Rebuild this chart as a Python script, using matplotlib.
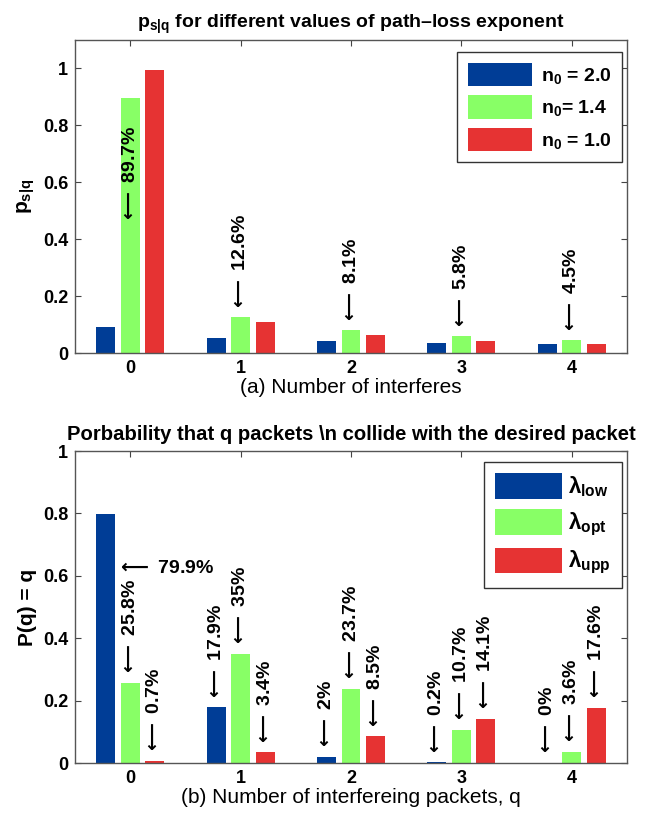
import matplotlib
matplotlib.use("Agg")
import matplotlib.pyplot as plt
import numpy as np

plt.rcParams['font.family'] = ['Liberation Sans', 'DejaVu Sans']
plt.rcParams['font.weight'] = 'bold'
plt.rcParams['mathtext.fontset'] = 'custom'
plt.rcParams['mathtext.rm'] = 'Liberation Sans:bold'
plt.rcParams['mathtext.bf'] = 'Liberation Sans:bold'
plt.rcParams['mathtext.it'] = 'Liberation Sans:bold'
plt.rcParams['mathtext.default'] = 'bf'

# ---------------- data ----------------
groups = [0, 1, 2, 3, 4]

top_labels = [r'$n_0$ = 2.0', r'$n_0$= 1.4', r'$n_0$ = 1.0']
top_n20 = [0.093, 0.051, 0.042, 0.036, 0.032]
top_n14 = [0.897, 0.126, 0.081, 0.058, 0.045]
top_n10 = [0.994, 0.110, 0.065, 0.042, 0.032]
top_annot = ['89.7%', '12.6%', '8.1%', '5.8%', '4.5%']

bot_labels = [r'$\lambda_{low}$', r'$\lambda_{opt}$', r'$\lambda_{upp}$']
bot_low = [0.799, 0.179, 0.020, 0.002, 0.000]
bot_opt = [0.258, 0.350, 0.237, 0.107, 0.036]
bot_upp = [0.007, 0.034, 0.085, 0.141, 0.176]
bot_annot_low = ['79.9%', '17.9%', '2%', '0.2%', '0%']
bot_annot_opt = ['25.8%', '35%', '23.7%', '10.7%', '3.6%']
bot_annot_upp = ['0.7%', '3.4%', '8.5%', '14.1%', '17.6%']

colors = ['#003d96', '#88ff66', '#e63333']
W, H = 662, 816
fig = plt.figure(figsize=(W / 100, H / 100), dpi=100)

ax1 = fig.add_axes([75 / W, 1 - 353 / H, 552 / W, 313 / H])
ax2 = fig.add_axes([75 / W, 1 - 763 / H, 552 / W, 312 / H])

x = np.array(groups, dtype=float)
pitch = 0.222
bw = 0.172
fs_tick = 13
fs_ann = 14
ARROW = r'$\mathrm{\longleftarrow}$ '


def ann(ax, xp, y, text, **kw):
    ax.text(xp, y, ARROW + text, fontsize=fs_ann, fontweight='bold', zorder=3,
            math_fontfamily='dejavusans', **kw)


def style(ax, ylim, yticks, yticklabels):
    ax.set_xlim(-0.5, 4.5)
    ax.set_ylim(*ylim)
    ax.set_xticks(groups)
    ax.set_xticklabels([str(g) for g in groups], fontsize=fs_tick, fontweight='bold')
    ax.set_yticks(yticks)
    ax.set_yticklabels(yticklabels, fontsize=fs_tick, fontweight='bold')
    ax.tick_params(direction='in', top=True, right=True, length=4, width=0.8,
                   color='#444444', pad=5)
    for s in ax.spines.values():
        s.set_color('#555555')
        s.set_linewidth(1.0)


# ---------- top ----------
for i, (vals, c, lab) in enumerate(zip([top_n20, top_n14, top_n10], colors, top_labels)):
    ax1.bar(x + (i - 1) * pitch, vals, width=bw, color=c, label=lab, zorder=2)

style(ax1, (0, 1.1), [0, 0.2, 0.4, 0.6, 0.8, 1.0], ['0', '0.2', '0.4', '0.6', '0.8', '1'])
ax1.set_title(r'$p_{s|q}$ for different values of path–loss exponent',
              fontsize=14, fontweight='bold', pad=9)
ax1.set_ylabel(r'$p_{s|q}$', fontsize=15, fontweight='bold', labelpad=4)
ax1.set_xlabel('(a) Number of interferes', fontsize=15, fontweight='normal', labelpad=1)

for g, v, t in zip(groups, top_n14, top_annot):
    if v > 0.8:
        ann(ax1, g, 0.80, t, rotation=90, ha='center', va='top')
    else:
        ann(ax1, g, v + 0.018, t, rotation=90, ha='center', va='bottom')

leg1 = ax1.legend(loc='upper right', fontsize=14, handlelength=3.3, handleheight=1.5,
                  borderpad=0.55, labelspacing=0.45, handletextpad=0.45,
                  borderaxespad=0, fancybox=False, edgecolor='#333333', framealpha=1,
                  bbox_to_anchor=(0.991, 0.962))
leg1.get_frame().set_linewidth(1.0)

# ---------- bottom ----------
for i, (vals, c, lab) in enumerate(zip([bot_low, bot_opt, bot_upp], colors, bot_labels)):
    ax2.bar(x + (i - 1) * pitch, vals, width=bw, color=c, label=lab, zorder=2)

style(ax2, (0, 1.0), [0, 0.2, 0.4, 0.6, 0.8, 1.0], ['0', '0.2', '0.4', '0.6', '0.8', '1'])
ax2.set_title('Porbability that q packets \\n collide with the desired packet',
              fontsize=14.6, fontweight='bold', pad=8)
ax2.set_ylabel('P(q) = q', fontsize=15, fontweight='bold', labelpad=4)
ax2.set_xlabel('(b) Number of interfereing packets, q', fontsize=15,
               fontweight='normal', labelpad=1)

for i, (vals, anns) in enumerate(zip([bot_low, bot_opt, bot_upp],
                                     [bot_annot_low, bot_annot_opt, bot_annot_upp])):
    for g, v, t in zip(groups, vals, anns):
        xp = g + (i - 1) * pitch
        if v > 0.6:
            ann(ax2, xp + bw / 2 + 0.01, v - 0.175, t, ha='left', va='center')
        else:
            ann(ax2, xp, v + 0.018, t, rotation=90, ha='center', va='bottom')

leg2 = ax2.legend(loc='upper right', fontsize=16, handlelength=3.0, handleheight=1.4,
                  borderpad=0.5, labelspacing=0.45, handletextpad=0.3,
                  borderaxespad=0, fancybox=False, edgecolor='#333333', framealpha=1,
                  bbox_to_anchor=(0.991, 0.965))
leg2.get_frame().set_linewidth(1.0)

fig.savefig('out.png', dpi=100)
